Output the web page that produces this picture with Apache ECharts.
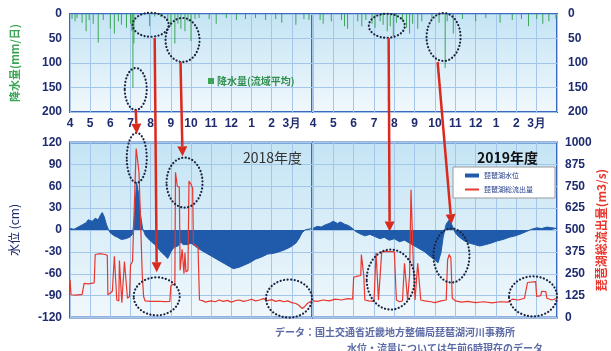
<!DOCTYPE html>
<html>
<head>
<meta charset="utf-8">
<script src="https://cdn.jsdelivr.net/npm/echarts@6/dist/echarts.min.js"></script>
<style>
  html, body { margin: 0; padding: 0; background: #ffffff; }
  #chart { width: 611px; height: 351px; }
</style>
</head>
<body>
<div id="chart"></div>
<script>
// Month tick labels (fiscal year, April to March); position 12 is the year boundary.
const monthLabels = ['4', '5', '6', '7', '8', '9', '10', '11', '12', '1', '2', '3月'];

// Daily rainfall, basin average (mm/day): [month position, mm]
const precip2018 = [
  [0.1, 10], [0.25, 15], [0.35, 8], [0.6, 18], [0.8, 35], [0.95, 12], [1.15, 20], [1.4, 58],
  [1.65, 12], [2.0, 30], [2.2, 40], [2.4, 15], [2.55, 22], [2.8, 28], [3.0, 20], [3.07, 35],
  [3.12, 150], [3.17, 60], [3.95, 25], [4.2, 5], [4.5, 6], [4.85, 15], [5.0, 25], [5.2, 60],
  [5.35, 20], [5.5, 30], [5.7, 35], [5.85, 15], [6.0, 55], [6.2, 10], [6.4, 8], [6.9, 10],
  [7.25, 20], [7.75, 8], [8.25, 12], [8.7, 10], [9.2, 8], [9.7, 12], [10.2, 10], [10.5, 18],
  [11.2, 22], [11.6, 10], [11.85, 12]
];
const precip2019 = [
  [0.35, 12], [0.5, 20], [0.9, 15], [1.4, 12], [1.55, 25], [1.7, 30], [2.2, 15], [2.4, 25],
  [2.6, 12], [2.9, 20], [3.05, 28], [3.3, 15], [3.45, 22], [3.65, 35], [3.8, 25], [3.95, 45],
  [4.1, 18], [4.4, 12], [4.6, 28], [4.75, 40], [4.9, 20], [5.15, 30], [5.35, 15], [5.85, 10],
  [6.2, 18], [6.5, 110], [6.6, 15], [6.9, 40], [7.35, 10], [8.0, 15], [8.5, 8], [9.2, 18],
  [9.8, 12], [10.25, 10], [10.6, 25], [11.0, 10], [11.3, 20], [11.6, 15], [11.95, 10]
];

// Lake Biwa water level (cm): [month position, cm]
const level2018 = [
  [0, 2], [0.2, 1], [0.4, 4], [0.6, 7], [0.8, 10], [0.9, 14], [1.1, 12], [1.25, 16], [1.4, 14],
  [1.5, 20], [1.6, 24], [1.7, 18], [1.8, 8], [1.9, 1], [2.0, -4], [2.2, -8], [2.35, -10],
  [2.55, -13], [2.75, -12], [2.95, -10], [3.1, -6], [3.2, 20], [3.3, 65], [3.4, 50], [3.5, 20],
  [3.6, 2], [3.75, -8], [3.95, -14], [4.2, -20], [4.45, -28], [4.7, -35], [4.85, -39], [5.0, -30],
  [5.15, -24], [5.35, -22], [5.5, -16], [5.6, -20], [5.85, -20], [6.0, -18], [6.2, -22],
  [6.4, -26], [6.65, -30], [6.9, -34], [7.15, -38], [7.4, -42], [7.65, -46], [7.9, -50],
  [8.1, -53], [8.4, -51], [8.65, -48], [8.9, -45], [9.2, -40], [9.5, -37], [9.8, -33],
  [10.1, -32], [10.35, -30], [10.65, -27], [10.95, -23], [11.2, -18], [11.35, -12], [11.5, -4],
  [11.65, 0], [11.8, 1], [12, 2]
];
const level2019 = [
  [0, 2], [0.2, 5], [0.4, 4], [0.6, 7], [0.8, 9], [1.0, 12], [1.2, 9], [1.35, 11], [1.55, 8],
  [1.75, 6], [1.95, 2], [2.1, -2], [2.3, -5], [2.55, -8], [2.8, -6], [3.05, -9], [3.3, -12],
  [3.5, -10], [3.75, -14], [4.0, -12], [4.25, -16], [4.5, -14], [4.75, -18], [5.0, -22],
  [5.25, -26], [5.5, -30], [5.75, -36], [6.0, -41], [6.15, -45], [6.3, -30], [6.4, -10],
  [6.55, 8], [6.7, 14], [6.85, 6], [7.0, -4], [7.2, -10], [7.45, -15], [7.7, -18], [7.95, -20],
  [8.2, -22], [8.5, -20], [8.75, -18], [9.05, -15], [9.35, -13], [9.65, -10], [9.95, -8],
  [10.25, -5], [10.5, -2], [10.75, 1], [11.0, 3], [11.25, 2], [11.5, 4], [11.75, 3], [12, 2]
];

// Total outflow from Lake Biwa (m3/s): [month position, m3/s]
const outflow2018 = [
  [0, 215], [0.05, 130], [0.3, 128], [0.6, 132], [0.7, 195], [0.9, 192], [1.2, 198], [1.25, 360],
  [1.5, 365], [1.75, 360], [1.85, 355], [1.88, 130], [2.0, 140], [2.1, 150], [2.2, 350], [2.25, 340],
  [2.32, 100], [2.42, 95], [2.45, 325], [2.52, 320], [2.57, 85], [2.65, 90], [2.7, 320], [2.78, 315],
  [2.85, 110], [2.95, 120], [3.0, 300], [3.1, 320], [3.18, 600], [3.28, 965], [3.35, 900],
  [3.42, 830], [3.5, 550], [3.58, 250], [3.65, 120], [3.72, 95], [4.0, 92], [4.4, 93], [4.7, 91],
  [4.95, 92], [5.0, 180], [5.1, 190], [5.2, 185], [5.23, 830], [5.28, 830], [5.32, 750],
  [5.42, 745], [5.46, 270], [5.52, 260], [5.56, 390], [5.6, 380], [5.65, 250], [5.7, 370],
  [5.75, 260], [5.85, 270], [5.9, 780], [5.95, 770], [6.0, 760], [6.08, 740], [6.12, 420],
  [6.25, 410], [6.35, 400], [6.42, 100], [6.6, 95], [6.7, 88], [7.0, 95], [7.2, 90], [7.4, 100],
  [7.6, 92], [7.8, 98], [8.0, 88], [8.2, 96], [8.4, 100], [8.6, 92], [8.8, 97], [9.0, 104],
  [9.2, 95], [9.4, 100], [9.6, 108], [9.8, 96], [10.0, 102], [10.2, 92], [10.4, 98], [10.6, 90],
  [10.8, 95], [11.0, 85], [11.2, 80], [11.35, 70], [11.5, 52], [11.6, 58], [11.75, 78],
  [11.9, 90], [12, 95]
];
const outflow2019 = [
  [0, 95], [0.2, 92], [0.5, 100], [0.8, 95], [1.1, 105], [1.4, 100], [1.7, 108], [1.95, 105],
  [2.0, 230], [2.15, 235], [2.35, 240], [2.38, 360], [2.45, 350], [2.5, 235], [2.55, 100],
  [2.75, 95], [3.0, 92], [3.1, 370], [3.15, 365], [3.22, 100], [3.3, 95], [3.38, 375],
  [3.6, 378], [4.0, 375], [4.1, 100], [4.25, 90], [4.4, 95], [4.5, 310], [4.58, 300],
  [4.65, 100], [4.75, 240], [4.82, 730], [4.9, 720], [4.95, 250], [5.02, 100], [5.15, 310],
  [5.22, 305], [5.3, 100], [5.5, 95], [5.8, 90], [6.0, 85], [6.3, 95], [6.55, 100], [6.62, 330],
  [6.7, 360], [6.78, 340], [6.85, 110], [7.0, 95], [7.3, 88], [7.6, 92], [8.0, 85], [8.4, 90],
  [8.8, 84], [9.2, 90], [9.6, 88], [9.8, 105], [10.1, 100], [10.4, 110], [10.55, 200],
  [10.95, 205], [11.0, 120], [11.2, 125], [11.25, 150], [11.45, 148], [11.5, 110],
  [11.75, 100], [12, 110]
];

const NAVY = '#1e2b6e';
const GRID_LINE = '#a3c6ea';
const BORDER = '#3a68c2';
const RAIN = '#3aa655';
const LEVEL = '#1f5aab';
const FLOW = '#e8372e';
const NUM_FONT = '"Liberation Sans", Arial, sans-serif';
const JP_FONT = '"Noto Sans CJK JP", sans-serif';

const panelFill = {
  type: 'linear', x: 0, y: 0, x2: 0, y2: 1,
  colorStops: [{ offset: 0, color: '#c4e4f4' }, { offset: 1, color: '#f1f8fc' }]
};

function gridBox(left, top, width, height) {
  return {
    left, top, width, height, show: true, outerBoundsMode: 'none',
    backgroundColor: panelFill, borderColor: BORDER, borderWidth: 2
  };
}

function monthAxis(gridIndex, showLabels) {
  return {
    type: 'value', gridIndex, min: 0, max: 12, interval: 1,
    axisLine: { show: false }, axisTick: { show: false },
    splitLine: { show: true, lineStyle: { color: GRID_LINE, width: 1 } },
    axisLabel: {
      show: showLabels, margin: 6, interval: 0,
      color: NAVY, fontSize: 12, fontWeight: 'bold', fontFamily: NUM_FONT,
      showMinLabel: true, showMaxLabel: true,
      formatter: v => (v >= 0 && v < 12) ? monthLabels[v] : ''
    }
  };
}

const plainNumber = v => String(v);

function valueAxis(opts) {
  return Object.assign({
    type: 'value',
    axisLine: { show: false }, axisTick: { show: false },
    splitLine: { show: false },
    axisLabel: { color: NAVY, fontSize: 12, fontWeight: 'bold', fontFamily: NUM_FONT, margin: 8, formatter: plainNumber }
  }, opts);
}

const chart = echarts.init(document.getElementById('chart'), null, { renderer: 'canvas' });

chart.setOption({
  animation: false,
  backgroundColor: '#ffffff',
  grid: [
    gridBox(70, 14, 242, 98),
    gridBox(313, 14, 244, 98),
    gridBox(70, 142.5, 242, 175),
    gridBox(313, 142.5, 244, 175)
  ],
  xAxis: [
    monthAxis(0, true),
    monthAxis(1, true),
    monthAxis(2, false),
    monthAxis(3, false)
  ],
  yAxis: [
    valueAxis({
      gridIndex: 0, min: 0, max: 200, interval: 50, inverse: true, position: 'left',
      splitLine: { show: true, lineStyle: { color: GRID_LINE } },
      name: '降水量(mm/日)', nameLocation: 'middle', nameGap: 50, nameRotate: 90,
      nameTextStyle: { color: RAIN, fontSize: 11, fontWeight: 'bold', fontFamily: JP_FONT }
    }),
    valueAxis({
      gridIndex: 1, min: 0, max: 200, interval: 50, inverse: true, position: 'right',
      splitLine: { show: true, lineStyle: { color: GRID_LINE } },
      axisLabel: { color: NAVY, fontSize: 12, fontWeight: 'bold', fontFamily: NUM_FONT, margin: 11, formatter: plainNumber }
    }),
    valueAxis({
      gridIndex: 2, min: -120, max: 120, interval: 30, position: 'left',
      splitLine: { show: true, lineStyle: { color: GRID_LINE } },
      name: '水位 (cm)', nameLocation: 'middle', nameGap: 50, nameRotate: 90,
      nameTextStyle: { color: NAVY, fontSize: 12, fontFamily: JP_FONT }
    }),
    valueAxis({
      gridIndex: 2, min: 0, max: 1000, interval: 125, position: 'right',
      axisLabel: { show: false }
    }),
    valueAxis({
      gridIndex: 3, min: -120, max: 120, interval: 30, position: 'left',
      splitLine: { show: true, lineStyle: { color: GRID_LINE } },
      axisLabel: { show: false }
    }),
    valueAxis({
      gridIndex: 3, min: 0, max: 1000, interval: 125, position: 'right',
      name: '琵琶湖総流出量(m3/s)', nameLocation: 'middle', nameGap: 38, nameRotate: 90,
      nameTextStyle: { color: FLOW, fontSize: 12, fontWeight: 'bold', fontFamily: JP_FONT }
    })
  ],
  title: [
    {
      text: '2018年度', left: 238, top: 146,
      textStyle: { color: '#333333', fontSize: 14, fontWeight: 'normal', fontFamily: JP_FONT }
    },
    {
      text: '2019年度', left: 472, top: 146,
      textStyle: { color: '#111111', fontSize: 14, fontWeight: 'bold', fontFamily: JP_FONT }
    }
  ],
  legend: [
    {
      data: ['降水量(流域平均)'], left: 203, top: 71, icon: 'rect',
      itemWidth: 6, itemHeight: 6, itemGap: 4,
      textStyle: { color: '#2f8f4f', fontSize: 10, fontWeight: 'bold', fontFamily: JP_FONT, padding: [0, 0, 0, -2] }
    },
    {
      data: [
        { name: '琵琶湖水位', lineStyle: { width: 4 } },
        { name: '琵琶湖総流出量' }
      ],
      orient: 'vertical', left: 453, top: 167,
      itemWidth: 14, itemHeight: 6, itemGap: 7,
      itemStyle: { opacity: 0 },
      padding: [5, 22, 5, 10],
      backgroundColor: '#ffffff', borderColor: '#9a9a9a', borderWidth: 1,
      textStyle: { color: '#1f3a8a', fontSize: 7, fontFamily: JP_FONT }
    }
  ],
  series: [
    {
      name: '降水量(流域平均)', type: 'bar', xAxisIndex: 0, yAxisIndex: 0,
      data: precip2018, barWidth: 1, itemStyle: { color: RAIN }
    },
    {
      name: '降水量(流域平均)', type: 'bar', xAxisIndex: 1, yAxisIndex: 1,
      data: precip2019, barWidth: 1, itemStyle: { color: RAIN }
    },
    {
      name: '琵琶湖水位', type: 'line', xAxisIndex: 2, yAxisIndex: 2,
      data: level2018, symbol: 'none', showSymbol: false,
      lineStyle: { color: LEVEL, width: 1 }, itemStyle: { color: LEVEL },
      areaStyle: { color: LEVEL, opacity: 1 }
    },
    {
      name: '琵琶湖水位', type: 'line', xAxisIndex: 3, yAxisIndex: 4,
      data: level2019, symbol: 'none', showSymbol: false,
      lineStyle: { color: LEVEL, width: 1 }, itemStyle: { color: LEVEL },
      areaStyle: { color: LEVEL, opacity: 1 }
    },
    {
      name: '琵琶湖総流出量', type: 'line', xAxisIndex: 2, yAxisIndex: 3,
      data: outflow2018, symbol: 'none', showSymbol: false,
      lineStyle: { color: FLOW, width: 1.2 }, itemStyle: { color: FLOW }
    },
    {
      name: '琵琶湖総流出量', type: 'line', xAxisIndex: 3, yAxisIndex: 5,
      data: outflow2019, symbol: 'none', showSymbol: false,
      lineStyle: { color: FLOW, width: 1.2 }, itemStyle: { color: FLOW }
    }
  ]
});

// Highlight rings and pointer arrows, placed in the panels' own coordinates.
// ax = [xAxisIndex, yAxisIndex]; t = month position; v = value on that y axis.
const rings = [
  { ax: [0, 0], t: 3.26, v: 153, rx: 11, ry: 21 },
  { ax: [0, 0], t: 4.0, v: 22, rx: 18, ry: 12 },
  { ax: [0, 0], t: 5.58, v: 53, rx: 17, ry: 22 },
  { ax: [1, 1], t: 3.63, v: 24, rx: 18, ry: 12 },
  { ax: [1, 1], t: 6.42, v: 47, rx: 17, ry: 24 },
  { ax: [2, 2], t: 3.31, v: 99, rx: 10, ry: 25 },
  { ax: [2, 2], t: 5.68, v: 65, rx: 18, ry: 25 },
  { ax: [2, 2], t: 4.3, v: -91, rx: 23, ry: 19 },
  { ax: [2, 2], t: 10.86, v: -94, rx: 23, ry: 19 },
  { ax: [3, 4], t: 3.82, v: -68, rx: 24, ry: 30 },
  { ax: [3, 4], t: 6.81, v: -35, rx: 18, ry: 27 },
  { ax: [3, 4], t: 10.82, v: -91, rx: 24, ry: 20 }
];
const arrows = [
  { from: { ax: [0, 0], t: 3.26, v: 196 }, to: { ax: [2, 2], t: 3.31, v: 132 } },
  { from: { ax: [0, 0], t: 4.2, v: 49 }, to: { ax: [2, 2], t: 4.3, v: -58 } },
  { from: { ax: [0, 0], t: 5.48, v: 98 }, to: { ax: [2, 2], t: 5.58, v: 101 } },
  { from: { ax: [1, 1], t: 3.72, v: 49 }, to: { ax: [3, 4], t: 3.77, v: -2 } },
  { from: { ax: [1, 1], t: 6.13, v: 98 }, to: { ax: [3, 4], t: 6.81, v: 8 } }
];

function px(p) {
  return chart.convertToPixel({ xAxisIndex: p.ax[0], yAxisIndex: p.ax[1] }, [p.t, p.v]);
}

const graphics = [];
rings.forEach(r => {
  const c = px(r);
  graphics.push({
    type: 'ellipse', z: 100, silent: true,
    shape: { cx: c[0], cy: c[1], rx: r.rx, ry: r.ry },
    style: { fill: 'none', stroke: '#1c2440', lineWidth: 2.2, lineDash: [0.1, 3.4], lineCap: 'round' }
  });
});
arrows.forEach(a => {
  const p0 = px(a.from), p1 = px(a.to);
  const ang = Math.atan2(p1[1] - p0[1], p1[0] - p0[0]);
  const len = 10, half = 5;
  const bx = p1[0] - len * Math.cos(ang), by = p1[1] - len * Math.sin(ang);
  const nx = -Math.sin(ang) * half, ny = Math.cos(ang) * half;
  graphics.push({
    type: 'line', z: 101, silent: true,
    shape: { x1: p0[0], y1: p0[1], x2: bx, y2: by },
    style: { stroke: '#d92a1e', lineWidth: 2.5 }
  });
  graphics.push({
    type: 'polygon', z: 101, silent: true,
    shape: { points: [[p1[0], p1[1]], [bx + nx, by + ny], [bx - nx, by - ny]] },
    style: { fill: '#d92a1e' }
  });
});

// Source notes under the chart
graphics.push({
  type: 'text', left: 275, top: 327, z: 100, silent: true,
  style: { text: 'データ：国土交通省近畿地方整備局琵琶湖河川事務所', fill: '#5c6aa6', fontSize: 10, fontWeight: 'bold', fontFamily: JP_FONT }
});
graphics.push({
  type: 'text', left: 347, top: 343, z: 100, silent: true,
  style: { text: '水位・流量については午前6時現在のデータ', fill: '#5c6aa6', fontSize: 10, fontWeight: 'bold', fontFamily: JP_FONT }
});

chart.setOption({ graphic: graphics });
</script>
</body>
</html>
